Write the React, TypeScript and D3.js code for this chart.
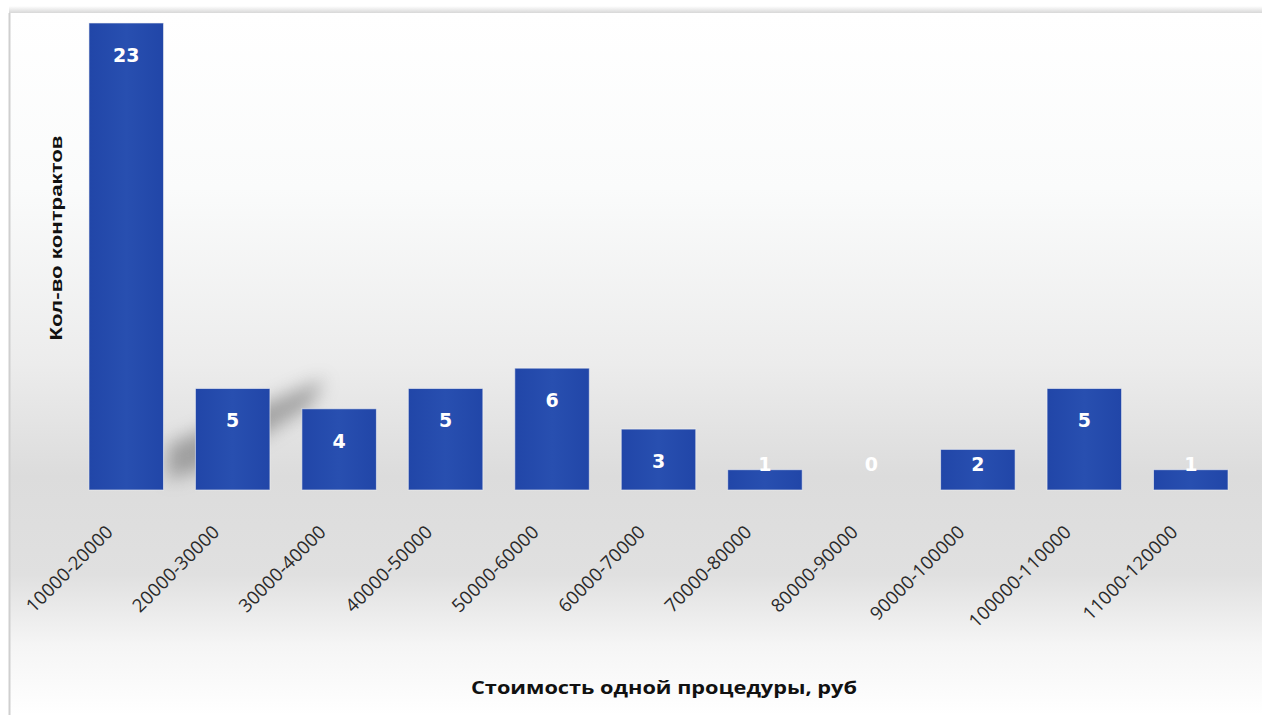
import React from "react";
import * as d3 from "d3";

const categories = [
  "10000-20000", "20000-30000", "30000-40000", "40000-50000", "50000-60000",
  "60000-70000", "70000-80000", "80000-90000", "90000-100000", "100000-110000", "11000-120000",
];
const counts = [23, 5, 4, 5, 6, 3, 1, 0, 2, 5, 1];
const xTitle = "Стоимость одной процедуры, руб";
const yTitle = "Кол-во контрактов";

const W = 1266, H = 715;
const plot = { left: 73, right: 1244, top: 23, bottom: 490 };

export default function App() {
  const x = d3.scaleBand<string>().domain(categories).range([plot.left, plot.right]).paddingInner(0.3).paddingOuter(0.15);
  const y = d3.scaleLinear().domain([0, d3.max(counts) as number]).range([plot.bottom, plot.top]);
  const bw = x.bandwidth();
  const b1 = (x(categories[0]) as number) + bw;
  const b2 = x(categories[1]) as number;
  const t2 = y(counts[1]);
  return (
    <svg width={W} height={H} style={{ position: "absolute", left: 0, top: 0 }}>
      <defs>
        <linearGradient id="bg" x1="0" y1="0" x2="0" y2="1">
          <stop offset="0" stopColor="#ffffff" />
          <stop offset="0.25" stopColor="#fafbfb" />
          <stop offset="0.5" stopColor="#ececec" />
          <stop offset="0.66" stopColor="#dcdcdc" />
          <stop offset="0.8" stopColor="#e0e0e0" />
          <stop offset="0.9" stopColor="#f5f5f5" />
          <stop offset="1" stopColor="#ffffff" />
        </linearGradient>
        <linearGradient id="topShadow" x1="0" y1="0" x2="0" y2="1">
          <stop offset="0" stopColor="#ffffff" />
          <stop offset="1" stopColor="#d8d8d8" />
        </linearGradient>
        <linearGradient id="barG" x1="0" y1="0" x2="1" y2="0">
          <stop offset="0" stopColor="#2146a8" />
          <stop offset="0.5" stopColor="#284fb0" />
          <stop offset="1" stopColor="#2146a8" />
        </linearGradient>
        <filter id="blur" x="-50%" y="-50%" width="200%" height="200%">
          <feGaussianBlur stdDeviation="9" />
        </filter>
      </defs>
      <rect x={0} y={0} width={W} height={H} fill="#ffffff" />
      <rect x={9} y={13} width={W - 13} height={H - 13} fill="url(#bg)" />
      <rect x={9} y={6} width={W - 13} height={7} fill="url(#topShadow)" />
      <line x1={9.5} y1={13} x2={9.5} y2={H} stroke="#cfcfcf" strokeWidth={2} />
      {/* soft shadow streak behind the second bar */}
      <polygon
        points={`${b1 + 4},${plot.bottom - 10} ${b1 + 4},${plot.bottom - 45} ${b2 + bw + 55},${t2 - 10} ${b2 + bw + 40},${t2 + 18} ${b2 + 20},${plot.bottom - 25}`}
        fill="#6a6a6a"
        opacity={0.55}
        filter="url(#blur)"
      />
      {categories.map((c, i) => {
        const v = counts[i];
        const bx = x(c) as number;
        const top = y(v);
        const ly = Math.min(top + 32, plot.bottom - 26);
        return (
          <g key={c}>
            {v > 0 && (
              <rect x={bx} y={top} width={bw} height={plot.bottom - top} fill="url(#barG)" stroke="#f4f4f4" strokeWidth={1} strokeOpacity={0.6} />
            )}
            <text
              x={bx + bw / 2}
              y={ly}
              dy="0.36em"
              textAnchor="middle"
              fill="#ffffff"
              fontFamily="DejaVu Sans, Verdana, sans-serif"
              fontWeight="bold"
              fontSize={19}
            >
              {v}
            </text>
            <text
              transform={`translate(${bx + bw / 2 - 12},${533}) rotate(-45)`}
              textAnchor="end"
              fill="#2a2a2a"
              fontFamily="Open Sans, sans-serif"
              fontSize={18.5}
              letterSpacing={0.2}
            >
              {c}
            </text>
          </g>
        );
      })}
      <text
        x={664}
        y={688}
        dy="0.35em"
        textAnchor="middle"
        fontFamily="Open Sans, sans-serif"
        fontWeight="bold"
        fontSize={18}
        fill="#111"
        textLength={386}
        lengthAdjust="spacingAndGlyphs"
      >
        {xTitle}
      </text>
      <text
        transform={`translate(56,238) rotate(-90)`}
        dy="0.35em"
        textAnchor="middle"
        fontFamily="Liberation Sans, Arial, sans-serif"
        fontWeight="bold"
        fontSize={17}
        fill="#111"
        textLength={205}
        lengthAdjust="spacingAndGlyphs"
      >
        {yTitle}
      </text>
    </svg>
  );
}
